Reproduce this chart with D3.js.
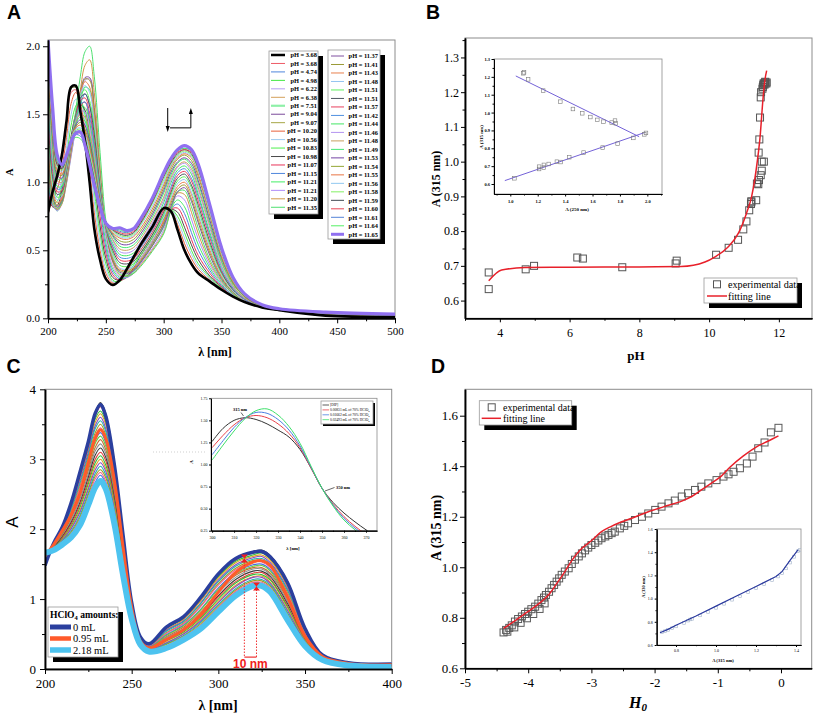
<!DOCTYPE html>
<html><head><meta charset="utf-8">
<script src="https://d3js.org/d3.v7.min.js"></script>
<style>html,body{margin:0;padding:0;background:#fff}svg{display:block}svg text{font-family:"Liberation Serif","Times New Roman",serif}</style>
</head><body>
<svg id="fig" width="815" height="714" xmlns="http://www.w3.org/2000/svg"></svg>
<script>
// ================= DATA =================
// ---- Panel A : UV spectra at different pH ----
const lamA = [200,204,208,212,216,220,224,228,232,236,240,245,250,256,262,268,274,280,290,300,306,312,318,324,330,340,350,360,370,385,400,440,500];
const phA = ['3.68','3.68','4.74','4.98','6.22','6.38','7.51','9.04','9.07','10.20','10.56','10.83','10.98','11.07','11.15','11.21','11.21','11.20','11.35','11.37','11.41','11.43','11.48','11.51','11.51','11.57','11.42','11.44','11.46','11.48','11.49','11.53','11.54','11.55','11.56','11.58','11.59','11.60','11.61','11.64','11.65'];
const colorsA = ["#000000","#ee5a66","#4f86dc","#44e844","#b79cf2","#d4a05a","#8ef0a8","#7b4a9a","#a6a645","#e8603a","#9ccbef","#4ef04e","#4a4a4a","#e8345a","#4f86dc","#44ee66","#b08cf8","#d09848","#4ee070",
 "#8050a0","#9a9a36","#e8804e","#94c4f0","#5cf05c","#4e5660","#e8405e","#5090e0","#44e664","#b494f0","#c8a060","#44e874","#7444a4","#94a634","#e87444","#90c8f0","#84f064","#424a52","#e84454","#5484d8","#54f064","#9070f0"];
const specLowPH = [0.77,0.91,1.04,1.19,1.44,1.69,1.70,1.51,1.30,1.00,0.66,0.43,0.29,0.25,0.28,0.36,0.45,0.54,0.67,0.81,0.79,0.65,0.50,0.40,0.33,0.27,0.21,0.16,0.12,0.08,0.06,0.02,0.01];
const spectraA = [
 [0.78,0.93,1.05,1.2,1.45,1.70,1.71,1.52,1.30,1.00,0.66,0.43,0.29,0.245,0.28,0.36,0.45,0.54,0.67,0.81,0.79,0.65,0.50,0.40,0.33,0.27,0.21,0.16,0.12,0.08,0.06,0.02,0.01],
 [0.76,0.9,1.02,1.17,1.42,1.66,1.68,1.5,1.29,1.0,0.67,0.44,0.3,0.255,0.285,0.365,0.455,0.545,0.675,0.81,0.79,0.66,0.51,0.41,0.34,0.27,0.21,0.16,0.12,0.08,0.06,0.02,0.01],
 specLowPH, specLowPH, specLowPH, specLowPH, specLowPH, specLowPH, specLowPH,
 [0.8,0.88,0.95,1.1,1.33,1.58,1.66,1.58,1.38,1.1,0.78,0.5,0.33,0.26,0.27,0.34,0.43,0.52,0.65,0.79,0.8,0.69,0.55,0.44,0.36,0.28,0.22,0.16,0.12,0.08,0.06,0.02,0.01],
 [0.82,0.86,0.9,1.03,1.25,1.5,1.61,1.6,1.45,1.19,0.86,0.56,0.36,0.27,0.27,0.33,0.41,0.5,0.63,0.77,0.8,0.72,0.59,0.47,0.38,0.29,0.22,0.16,0.12,0.08,0.06,0.02,0.01],
 [0.85,0.84,0.86,0.98,1.18,1.42,1.56,1.6,1.5,1.27,0.94,0.62,0.4,0.28,0.27,0.32,0.39,0.48,0.61,0.75,0.8,0.75,0.63,0.5,0.4,0.3,0.22,0.16,0.12,0.08,0.06,0.02,0.01],
 [0.9,0.82,0.83,0.94,1.12,1.34,1.5,1.57,1.53,1.34,1.02,0.68,0.44,0.3,0.28,0.31,0.37,0.46,0.59,0.73,0.8,0.78,0.67,0.54,0.43,0.31,0.23,0.16,0.12,0.08,0.06,0.02,0.01],
 [0.95,0.82,0.81,0.9,1.07,1.28,1.45,1.56,1.59,1.45,1.12,0.75,0.48,0.32,0.28,0.3,0.36,0.44,0.57,0.71,0.8,0.81,0.72,0.58,0.46,0.33,0.23,0.16,0.12,0.08,0.06,0.02,0.01],
 [1.0,0.83,0.8,0.87,1.03,1.24,1.42,1.57,1.65,1.57,1.24,0.83,0.52,0.34,0.29,0.3,0.35,0.42,0.55,0.69,0.8,0.84,0.77,0.63,0.5,0.35,0.24,0.17,0.12,0.08,0.06,0.02,0.01],
 [1.05,0.84,0.79,0.85,1.0,1.2,1.4,1.58,1.7,1.68,1.36,0.9,0.56,0.36,0.3,0.3,0.34,0.41,0.53,0.67,0.8,0.87,0.82,0.68,0.54,0.37,0.25,0.17,0.12,0.08,0.06,0.02,0.01],
 [1.1,0.85,0.79,0.84,0.99,1.19,1.4,1.6,1.75,1.76,1.47,0.98,0.6,0.38,0.31,0.3,0.33,0.4,0.51,0.65,0.8,0.9,0.87,0.73,0.58,0.39,0.26,0.17,0.12,0.08,0.06,0.02,0.01],
 [1.15,0.86,0.8,0.84,1.0,1.22,1.45,1.68,1.86,1.9,1.66,1.12,0.66,0.41,0.32,0.31,0.33,0.39,0.5,0.63,0.79,0.92,0.91,0.78,0.62,0.41,0.27,0.18,0.12,0.08,0.06,0.02,0.01],
 [1.2,0.88,0.81,0.85,1.03,1.28,1.53,1.78,1.96,2.0,1.78,1.22,0.72,0.44,0.33,0.31,0.33,0.38,0.49,0.62,0.79,0.93,0.94,0.82,0.66,0.43,0.28,0.18,0.12,0.08,0.06,0.02,0.01],
 [1.25,0.9,0.82,0.86,1.03,1.25,1.48,1.66,1.77,1.77,1.55,1.05,0.65,0.42,0.34,0.33,0.35,0.41,0.53,0.68,0.82,0.93,0.96,0.86,0.7,0.46,0.29,0.19,0.13,0.08,0.06,0.03,0.015],
 [1.3,0.92,0.83,0.87,1.04,1.26,1.49,1.66,1.76,1.75,1.53,1.04,0.65,0.43,0.35,0.34,0.36,0.42,0.54,0.7,0.84,0.95,0.98,0.88,0.72,0.48,0.3,0.19,0.13,0.08,0.06,0.03,0.015],
 [1.35,0.95,0.85,0.88,1.05,1.27,1.5,1.66,1.74,1.7,1.48,1.02,0.65,0.45,0.36,0.35,0.37,0.43,0.56,0.72,0.86,0.97,1.0,0.91,0.75,0.5,0.31,0.2,0.13,0.08,0.06,0.03,0.015],
 [1.4,0.98,0.87,0.9,1.06,1.28,1.5,1.65,1.71,1.66,1.44,1.0,0.65,0.46,0.37,0.36,0.38,0.44,0.57,0.74,0.88,0.99,1.02,0.93,0.77,0.52,0.32,0.2,0.13,0.08,0.06,0.03,0.015],
 [1.45,1.01,0.89,0.91,1.07,1.29,1.5,1.64,1.68,1.6,1.39,0.98,0.66,0.48,0.39,0.38,0.4,0.46,0.59,0.76,0.9,1.01,1.04,0.96,0.8,0.54,0.33,0.21,0.14,0.08,0.06,0.03,0.015],
 [1.5,1.04,0.91,0.93,1.08,1.3,1.49,1.62,1.65,1.56,1.35,0.96,0.67,0.5,0.41,0.4,0.42,0.48,0.61,0.78,0.92,1.03,1.06,0.98,0.83,0.56,0.34,0.21,0.14,0.08,0.06,0.03,0.015],
 [1.55,1.08,0.93,0.94,1.09,1.3,1.48,1.6,1.62,1.51,1.3,0.94,0.67,0.52,0.43,0.42,0.44,0.5,0.63,0.8,0.94,1.05,1.08,1.01,0.86,0.59,0.35,0.22,0.14,0.08,0.06,0.03,0.015],
 [1.6,1.12,0.95,0.96,1.1,1.31,1.47,1.57,1.59,1.48,1.27,0.93,0.68,0.53,0.45,0.44,0.46,0.52,0.65,0.82,0.96,1.07,1.1,1.03,0.89,0.61,0.36,0.22,0.14,0.08,0.06,0.03,0.015],
 [1.65,1.16,0.97,0.97,1.11,1.31,1.46,1.55,1.55,1.43,1.23,0.91,0.68,0.55,0.47,0.46,0.48,0.54,0.67,0.85,0.99,1.09,1.12,1.06,0.91,0.63,0.38,0.23,0.15,0.09,0.06,0.03,0.02],
 [1.7,1.2,0.99,0.99,1.12,1.31,1.45,1.52,1.52,1.4,1.2,0.9,0.69,0.57,0.49,0.48,0.5,0.56,0.7,0.87,1.01,1.11,1.14,1.08,0.94,0.66,0.39,0.23,0.15,0.09,0.06,0.03,0.02],
 [1.74,1.24,1.01,1.0,1.13,1.31,1.44,1.5,1.48,1.36,1.17,0.89,0.69,0.58,0.51,0.5,0.52,0.58,0.72,0.89,1.03,1.12,1.15,1.1,0.96,0.68,0.41,0.24,0.15,0.09,0.06,0.03,0.02],
 [1.78,1.28,1.03,1.02,1.14,1.31,1.43,1.48,1.45,1.33,1.14,0.88,0.7,0.6,0.53,0.52,0.54,0.6,0.74,0.92,1.05,1.14,1.17,1.12,0.99,0.7,0.42,0.25,0.16,0.09,0.065,0.035,0.02],
 [1.82,1.32,1.05,1.03,1.15,1.32,1.42,1.46,1.42,1.3,1.12,0.87,0.7,0.61,0.55,0.54,0.56,0.62,0.76,0.94,1.07,1.15,1.18,1.14,1.01,0.72,0.44,0.26,0.16,0.09,0.065,0.035,0.02],
 [1.85,1.36,1.07,1.05,1.16,1.32,1.41,1.44,1.39,1.27,1.1,0.86,0.71,0.62,0.57,0.56,0.58,0.64,0.78,0.96,1.09,1.17,1.2,1.16,1.04,0.75,0.45,0.26,0.16,0.09,0.065,0.035,0.02],
 [1.88,1.4,1.09,1.06,1.17,1.32,1.4,1.42,1.37,1.24,1.08,0.85,0.71,0.63,0.59,0.58,0.6,0.66,0.8,0.98,1.11,1.18,1.21,1.18,1.06,0.77,0.47,0.27,0.17,0.1,0.065,0.035,0.02],
 [1.91,1.43,1.11,1.08,1.18,1.32,1.39,1.4,1.35,1.22,1.06,0.84,0.71,0.64,0.6,0.59,0.61,0.68,0.82,1.0,1.12,1.19,1.22,1.19,1.08,0.78,0.48,0.28,0.17,0.1,0.065,0.035,0.02],
 [1.94,1.46,1.12,1.09,1.18,1.32,1.38,1.39,1.33,1.2,1.04,0.84,0.71,0.645,0.61,0.6,0.62,0.69,0.84,1.02,1.13,1.2,1.23,1.2,1.09,0.8,0.49,0.28,0.17,0.1,0.065,0.04,0.025],
 [1.97,1.48,1.13,1.1,1.19,1.31,1.37,1.37,1.31,1.18,1.02,0.83,0.71,0.65,0.62,0.61,0.63,0.7,0.85,1.04,1.14,1.21,1.24,1.21,1.1,0.81,0.5,0.29,0.18,0.1,0.07,0.04,0.025],
 [2.0,1.5,1.14,1.11,1.19,1.31,1.36,1.36,1.3,1.16,1.0,0.82,0.71,0.655,0.63,0.62,0.64,0.71,0.86,1.05,1.15,1.22,1.24,1.22,1.11,0.82,0.5,0.29,0.18,0.1,0.07,0.04,0.025],
 [2.02,1.52,1.15,1.11,1.19,1.31,1.35,1.34,1.28,1.15,0.99,0.82,0.71,0.66,0.64,0.63,0.65,0.72,0.87,1.06,1.16,1.23,1.25,1.23,1.12,0.82,0.51,0.29,0.18,0.1,0.07,0.04,0.025],
 [2.03,1.53,1.16,1.12,1.19,1.3,1.33,1.32,1.26,1.13,0.98,0.81,0.7,0.66,0.65,0.635,0.655,0.725,0.875,1.06,1.16,1.23,1.25,1.23,1.12,0.82,0.51,0.3,0.18,0.1,0.07,0.045,0.03],
 [2.05,1.55,1.2,1.13,1.2,1.3,1.36,1.37,1.27,1.13,0.98,0.82,0.7,0.66,0.665,0.645,0.66,0.73,0.88,1.07,1.17,1.24,1.27,1.24,1.13,0.83,0.52,0.3,0.18,0.1,0.07,0.045,0.03]
];
const ticksAx = [200,250,300,350,400,450,500], minorAx = [225,275,325,375,425,475];
const ticksAy = [0,0.5,1.0,1.5,2.0], minorAy = [0.25,0.75,1.25,1.75];
const arrowDownA = {lam:303.5, from:1.546, to:1.37};
const arrowElbowA = {lam0:305.5, lam1:323.5, a0:1.40, a1:1.546};

// ---- Panel B : A(315) vs pH ----
const absB = [0.633,0.681,0.690,0.700,0.724,0.721,0.696,0.707,0.715,0.732,0.752,0.775,0.805,0.828,0.860,0.883,0.886,0.878,0.889,0.937,0.935,0.947,0.961,0.974,1.0,1.0,1.026,1.064,1.127,1.185,1.2,1.21,1.215,1.22,1.225,1.225,1.222,1.228,1.23,1.225,1.228];
const fitBx = [3.68,4.05,4.72,6,8,9.2,9.88,10.17,10.55,10.84,11.07,11.22,11.36,11.46,11.55,11.6,11.65];
const fitBy = [0.657,0.688,0.695,0.696,0.697,0.698,0.711,0.726,0.755,0.794,0.851,0.9,0.985,1.07,1.187,1.235,1.262];
const ticksBx = [4,6,8,10,12], minorBx = [3,5,7,9,11];
const ticksBy = [0.6,0.7,0.8,0.9,1.0,1.1,1.2,1.3], minorBy = [0.65,0.75,0.85,0.95,1.05,1.15,1.25,1.35];
const inB1x = [1.095,1.10,1.13,1.24,1.365,1.457,1.525,1.584,1.635,1.68,1.74,1.764,1.77];
const inB1y = [1.22,1.225,1.186,1.123,1.061,1.02,0.996,0.975,0.959,0.949,0.944,0.955,0.94];
const inB2x = [1.03,1.21,1.21,1.245,1.245,1.28,1.34,1.367,1.43,1.535,1.674,1.783,1.898,1.978,1.99];
const inB2y = [0.632,0.684,0.697,0.692,0.707,0.712,0.725,0.723,0.75,0.776,0.804,0.826,0.858,0.878,0.886];
const inBline1 = [[1.04,1.205],[1.94,0.865]], inBline2 = [[0.96,0.619],[1.98,0.888]];
const ticksBix = [1.0,1.2,1.4,1.6,1.8,2.0], ticksBiy = [0.6,0.7,0.8,0.9,1.0,1.1,1.2,1.3];

// ---- Panel C : spectra with HClO4 ----
const lamC = [200,205,210,215,220,225,229,232,235,240,245,250,255,260,270,280,290,300,310,320,325,330,340,350,360,375,400];
const blueC   = [1.48,1.8,2.03,2.37,2.8,3.25,3.66,3.78,3.62,2.92,1.92,0.95,0.46,0.36,0.6,0.75,1.03,1.36,1.58,1.67,1.68,1.6,1.23,0.58,0.2,0.09,0.07];
const orangeC = [1.62,1.78,1.98,2.2,2.5,2.95,3.3,3.42,3.3,2.7,1.75,0.88,0.4,0.3,0.42,0.56,0.78,1.1,1.38,1.53,1.55,1.48,1.02,0.47,0.18,0.08,0.06];
const cyanC   = [1.66,1.7,1.78,1.88,2.05,2.35,2.6,2.69,2.58,2.08,1.35,0.72,0.35,0.25,0.3,0.42,0.58,0.82,1.05,1.19,1.19,1.1,0.7,0.33,0.13,0.05,0.03];
const thinC = [
 [1.6,1.79,2.02,2.35,2.78,3.24,3.67,3.81,3.66,2.97,1.95,0.97,0.46,0.36,0.59,0.74,1.02,1.35,1.58,1.68,1.70,1.62,1.25,0.59,0.2,0.09,0.07],
 [1.61,1.79,2.01,2.34,2.77,3.21,3.62,3.75,3.6,2.92,1.92,0.95,0.46,0.36,0.59,0.74,1.02,1.34,1.56,1.67,1.69,1.61,1.22,0.57,0.2,0.09,0.07],
 [1.62,1.79,2.01,2.33,2.74,3.18,3.58,3.69,3.54,2.85,1.87,0.93,0.45,0.35,0.58,0.72,0.99,1.32,1.54,1.63,1.66,1.57,1.19,0.56,0.19,0.09,0.07],
 [1.63,1.78,2.0,2.31,2.71,3.14,3.53,3.65,3.5,2.82,1.85,0.92,0.45,0.35,0.56,0.71,0.98,1.3,1.52,1.61,1.63,1.55,1.17,0.55,0.19,0.09,0.07],
 [1.63,1.78,1.99,2.29,2.67,3.1,3.48,3.6,3.44,2.78,1.82,0.91,0.44,0.34,0.55,0.69,0.95,1.27,1.49,1.59,1.61,1.52,1.14,0.54,0.19,0.08,0.06],
 [1.64,1.78,1.98,2.27,2.64,3.06,3.44,3.55,3.4,2.74,1.8,0.9,0.44,0.34,0.54,0.68,0.94,1.25,1.47,1.57,1.58,1.5,1.12,0.53,0.19,0.08,0.06],
 [1.64,1.77,1.97,2.24,2.6,3.02,3.38,3.5,3.35,2.7,1.77,0.89,0.43,0.33,0.52,0.66,0.91,1.22,1.44,1.55,1.55,1.47,1.09,0.52,0.18,0.08,0.06],
 [1.65,1.77,1.96,2.22,2.58,2.98,3.34,3.45,3.31,2.67,1.75,0.88,0.43,0.33,0.51,0.65,0.9,1.2,1.42,1.53,1.53,1.45,1.07,0.51,0.18,0.08,0.06],
 [1.65,1.76,1.94,2.19,2.52,2.92,3.27,3.38,3.24,2.61,1.71,0.87,0.42,0.32,0.49,0.63,0.86,1.16,1.38,1.49,1.5,1.42,1.03,0.49,0.17,0.08,0.06],
 [1.65,1.76,1.93,2.17,2.49,2.88,3.23,3.33,3.19,2.58,1.69,0.86,0.41,0.31,0.48,0.62,0.85,1.14,1.36,1.47,1.48,1.4,1.01,0.48,0.17,0.07,0.05],
 [1.65,1.75,1.92,2.15,2.46,2.84,3.17,3.28,3.14,2.53,1.66,0.84,0.41,0.31,0.46,0.6,0.82,1.11,1.34,1.45,1.45,1.37,0.99,0.47,0.17,0.07,0.05],
 [1.65,1.75,1.9,2.12,2.42,2.79,3.12,3.22,3.09,2.49,1.63,0.83,0.4,0.3,0.45,0.58,0.8,1.09,1.31,1.43,1.43,1.35,0.96,0.45,0.16,0.07,0.05],
 [1.66,1.74,1.89,2.09,2.37,2.74,3.06,3.16,3.03,2.44,1.6,0.82,0.4,0.3,0.43,0.56,0.77,1.05,1.28,1.4,1.4,1.32,0.93,0.44,0.16,0.07,0.05],
 [1.66,1.73,1.88,2.07,2.34,2.69,3.0,3.1,2.98,2.4,1.57,0.81,0.39,0.29,0.41,0.55,0.75,1.03,1.25,1.37,1.38,1.29,0.9,0.43,0.16,0.06,0.05],
 [1.66,1.73,1.86,2.04,2.3,2.65,2.95,3.05,2.92,2.36,1.54,0.8,0.39,0.29,0.4,0.53,0.73,1.0,1.23,1.35,1.35,1.27,0.88,0.41,0.15,0.06,0.04],
 [1.66,1.72,1.85,2.02,2.26,2.6,2.9,3.0,2.87,2.32,1.51,0.78,0.38,0.28,0.38,0.51,0.71,0.97,1.2,1.32,1.33,1.24,0.85,0.4,0.15,0.06,0.04],
 [1.66,1.72,1.84,2.0,2.23,2.57,2.85,2.95,2.83,2.28,1.49,0.78,0.38,0.28,0.37,0.5,0.69,0.95,1.18,1.31,1.31,1.22,0.83,0.39,0.15,0.06,0.04],
 [1.66,1.72,1.83,1.97,2.19,2.52,2.8,2.9,2.78,2.24,1.46,0.76,0.37,0.27,0.36,0.48,0.67,0.92,1.15,1.28,1.28,1.2,0.8,0.38,0.14,0.06,0.04],
 [1.66,1.71,1.82,1.95,2.16,2.49,2.76,2.85,2.74,2.21,1.44,0.75,0.37,0.27,0.35,0.47,0.65,0.9,1.13,1.26,1.26,1.18,0.78,0.37,0.14,0.06,0.04],
 [1.66,1.71,1.81,1.93,2.13,2.45,2.72,2.81,2.69,2.17,1.41,0.75,0.36,0.26,0.33,0.46,0.63,0.88,1.11,1.24,1.24,1.16,0.76,0.36,0.14,0.05,0.03],
 [1.66,1.7,1.8,1.91,2.1,2.41,2.67,2.77,2.65,2.14,1.39,0.74,0.36,0.26,0.32,0.44,0.61,0.86,1.09,1.22,1.22,1.14,0.74,0.35,0.13,0.05,0.03],
 [1.66,1.7,1.79,1.9,2.07,2.38,2.63,2.72,2.61,2.11,1.37,0.73,0.35,0.25,0.31,0.43,0.59,0.84,1.07,1.2,1.2,1.12,0.72,0.34,0.13,0.05,0.03]
];
const thinColorsC = ["#3a3a3a","#e03a3a","#34c23a","#e0a020","#8a48c4","#20b0b0","#a0a020","#f06090","#4a6ae0","#60d040","#c87030","#8e8e8e"];
const legendC = ["0 mL","0.95  mL","2.18 mL"];
const ticksCx = [200,250,300,350,400], minorCx = [225,275,325,375];
const ticksCy = [0,1,2,3,4], minorCy = [0.5,1.5,2.5,3.5];
const markLamC = [315,322], markAbsC = [1.58,1.18], markBaseC = 0.17;
// inset C
const lamCi = [300,305,310,315,320,325,330,335,340,345,350,355,360,365,370,375];
const inC = [
 [1.26,1.41,1.5,1.53,1.51,1.46,1.39,1.31,1.17,0.96,0.73,0.57,0.45,0.35,0.26,0.18],
 [1.19,1.33,1.45,1.53,1.555,1.53,1.46,1.35,1.19,0.96,0.73,0.55,0.41,0.3,0.21,0.14],
 [1.11,1.27,1.42,1.53,1.59,1.58,1.51,1.39,1.21,0.97,0.73,0.54,0.39,0.28,0.19,0.12],
 [1.05,1.22,1.38,1.52,1.61,1.63,1.56,1.43,1.24,0.98,0.73,0.53,0.37,0.26,0.17,0.1]
];
const inCcolors = ["#333333","#e8404a","#4a7fe0","#3ee06a"];
const inClegend = ["[DIP]","0.00831 mL of 70% HClO","0.01662 mL of 70% HClO","0.02493 mL of 70% HClO"];
const ticksCix = [300,310,320,330,340,350,360,370], ticksCiy = [0.25,0.5,0.75,1.0,1.25,1.5,1.75];

// ---- Panel D : A(315) vs H0 ----
const h0D = [-4.39,-4.35,-4.3,-4.26,-4.21,-4.16,-4.1,-4.05,-4.0,-3.95,-3.89,-3.84,-3.79,-3.75,-3.72,-3.67,-3.63,-3.59,-3.55,-3.51,-3.47,-3.42,-3.36,-3.31,-3.26,-3.2,-3.15,-3.1,-3.05,-3.0,-2.94,-2.89,-2.84,-2.78,-2.73,-2.68,-2.63,-2.55,-2.48,-2.42,-2.31,-2.2,-2.1,-1.99,-1.89,-1.78,-1.68,-1.57,-1.47,-1.36,-1.26,-1.15,-1.02,-0.91,-0.83,-0.75,-0.65,-0.54,-0.45,-0.36,-0.26,-0.16,-0.04,-4.33,-4.22,-4.12,-4.02,-3.92,-3.82,-3.74];
const absD = [0.742,0.752,0.76,0.77,0.785,0.795,0.805,0.815,0.824,0.834,0.844,0.856,0.87,0.88,0.89,0.903,0.917,0.93,0.943,0.956,0.97,0.983,0.996,1.013,1.03,1.043,1.055,1.067,1.078,1.088,1.097,1.106,1.115,1.122,1.128,1.135,1.141,1.154,1.164,1.174,1.187,1.2,1.213,1.227,1.24,1.253,1.264,1.28,1.293,1.306,1.319,1.332,1.345,1.359,1.368,1.378,1.392,1.411,1.438,1.471,1.494,1.534,1.552,0.745,0.762,0.78,0.798,0.815,0.835,0.857];
const fitDx = [-4.39,-4.2,-4.0,-3.8,-3.68,-3.55,-3.42,-3.3,-3.15,-3.0,-2.84,-2.7,-2.52,-2.3,-2.1,-1.85,-1.57,-1.4,-1.26,-1.1,-0.94,-0.8,-0.6,-0.4,-0.2,-0.04];
const fitDy = [0.758,0.79,0.825,0.862,0.89,0.935,0.983,1.03,1.075,1.105,1.141,1.16,1.18,1.2,1.22,1.24,1.262,1.282,1.306,1.333,1.362,1.398,1.44,1.475,1.5,1.52];
const ticksDx = [-5,-4,-3,-2,-1,0], minorDx = [-4.5,-3.5,-2.5,-1.5,-0.5];
const ticksDy = [0.6,0.8,1.0,1.2,1.4,1.6], minorDy = [0.7,0.9,1.1,1.3,1.5];
const inDlx = [0.72,0.76,0.8,0.9,1.0,1.1,1.2,1.3,1.33,1.37,1.41];
const inDly = [0.705,0.735,0.77,0.85,0.935,1.02,1.105,1.19,1.232,1.33,1.42];
const inDpx = [0.73,0.745,0.76,0.78,0.8,0.84,0.86,0.87,0.88,0.92,0.96,1.0,1.04,1.08,1.12,1.16,1.2,1.24,1.28,1.31,1.33,1.35,1.37,1.39,1.41,1.42];
const inDpy = [0.71,0.72,0.73,0.745,0.76,0.79,0.81,0.82,0.825,0.855,0.885,0.92,0.955,0.99,1.02,1.055,1.09,1.125,1.16,1.19,1.22,1.26,1.31,1.36,1.41,1.42];
const ticksDix = [0.8,1.0,1.2,1.4], ticksDiy = [0.6,0.8,1.0,1.2,1.4,1.6];

// ================= DRAWING =================
const svg = d3.select('#fig');
const SERIF = '"Liberation Serif","Times New Roman",serif';
const SANS = '"Liberation Sans",Arial,Helvetica,sans-serif';
let clipN = 0;

function makePanel(c) {
  const x = d3.scaleLinear().domain(c.xd).range([c.l, c.r]);
  const y = d3.scaleLinear().domain(c.yd).range([c.b, c.t]);
  const g = svg.append('g');
  const id = 'cp' + (clipN++);
  g.append('clipPath').attr('id', id).append('rect')
    .attr('x', c.l).attr('y', c.t).attr('width', c.r - c.l).attr('height', c.b - c.t);
  g.append('rect').attr('x', c.l).attr('y', c.t).attr('width', c.r - c.l).attr('height', c.b - c.t)
    .attr('fill', c.bg || 'none').attr('stroke', c.frame || '#8c8c8c').attr('stroke-width', c.fw || 1);
  const plot = g.append('g').attr('clip-path', `url(#${id})`);
  function axes() {
    const style = s => {
      s.attr('font-family', null).attr('font-size', null);
      s.select('.domain').attr('stroke', '#000').attr('stroke-width', c.aw || 1.5);
      s.selectAll('.tick line').attr('stroke', '#000').attr('stroke-width', c.tw || 1);
      s.selectAll('.tick text').style('font-family', SERIF).style('font-size', c.fs + 'px').attr('fill', '#000').style('font-weight', c.fwt || 'normal');
    };
    const bx = g.append('g').attr('transform', `translate(0,${c.b})`);
    bx.append('g').call(d3.axisBottom(x).tickValues(c.xm || []).tickSize(c.ml).tickSizeOuter(0).tickFormat('')).call(style);
    bx.append('g').call(d3.axisBottom(x).tickValues(c.xM).tickSize(c.Ml).tickSizeOuter(0).tickPadding(c.xp).tickFormat(c.xf)).call(style);
    const ly = g.append('g').attr('transform', `translate(${c.l},0)`);
    ly.append('g').call(d3.axisLeft(y).tickValues(c.ym || []).tickSize(c.ml).tickSizeOuter(0).tickFormat('')).call(style);
    ly.append('g').call(d3.axisLeft(y).tickValues(c.yM).tickSize(c.Ml).tickSizeOuter(0).tickPadding(c.yp).tickFormat(c.yf)).call(style);
  }
  return { x, y, g, plot, axes };
}
function txt(g, x, y, s, o = {}) {
  const t = g.append('text').attr('x', x).attr('y', y).text(s)
    .style('font-family', o.ff || SERIF).style('font-size', (o.fs || 10) + 'px')
    .style('font-weight', o.fw || 'normal').style('font-style', o.it ? 'italic' : 'normal')
    .attr('fill', o.fill || '#000').attr('text-anchor', o.anchor || 'start');
  if (o.dy) t.attr('dy', o.dy);
  if (o.rot) t.attr('transform', `rotate(${o.rot},${x},${y})`);
  return t;
}
function shadowBox(g, x, y, w, h, off) {
  g.append('rect').attr('x', x + off).attr('y', y + off).attr('width', w).attr('height', h).attr('fill', '#000');
  g.append('rect').attr('x', x).attr('y', y).attr('width', w).attr('height', h).attr('fill', '#fff').attr('stroke', '#9a9a9a').attr('stroke-width', 0.8);
}
const sq = (g, cx, cy, s, stroke, sw) => g.append('rect').attr('x', cx - s / 2).attr('y', cy - s / 2).attr('width', s).attr('height', s)
  .attr('fill', 'none').attr('stroke', stroke).attr('stroke-width', sw);

// ---------- Panel A ----------
const pA = makePanel({ xd: [200, 500], yd: [0, 2.046], l: 48, r: 395, t: 40, b: 318.3,
  xM: ticksAx, xm: minorAx, yM: ticksAy, ym: minorAy, ml: 3, Ml: 5, xp: 4, yp: 3,
  xf: d => d, yf: d3.format('.1f'), fs: 11 });
const lineA = d3.line().x((d, i) => pA.x(lamA[i])).y(d => pA.y(d)).curve(d3.curveCatmullRom);
const orderA = d3.range(1, 40).concat([0, 40]);
orderA.forEach(i => {
  pA.plot.append('path').attr('d', lineA(spectraA[i])).attr('fill', 'none')
    .attr('stroke', colorsA[i]).attr('stroke-width', i === 0 ? 2.6 : i === 40 ? 3.2 : 1);
});
pA.axes();
(function () {
  const g = pA.g, x = pA.x, y = pA.y;
  const xd = x(arrowDownA.lam);
  g.append('line').attr('x1', xd).attr('x2', xd).attr('y1', y(arrowDownA.from)).attr('y2', y(arrowDownA.to) - 4).attr('stroke', '#000');
  g.append('path').attr('d', `M${xd - 2},${y(arrowDownA.to) - 6}L${xd + 2},${y(arrowDownA.to) - 6}L${xd},${y(arrowDownA.to)}Z`).attr('fill', '#000');
  const x0 = x(arrowElbowA.lam0), x1 = x(arrowElbowA.lam1), ya = y(arrowElbowA.a0), yb = y(arrowElbowA.a1);
  g.append('path').attr('d', `M${x0},${ya}L${x1},${ya}L${x1},${yb + 4}`).attr('fill', 'none').attr('stroke', '#000');
  g.append('path').attr('d', `M${x1 - 2},${yb + 6}L${x1 + 2},${yb + 6}L${x1},${yb}Z`).attr('fill', '#000');
})();
shadowBox(pA.g, 269, 51, 49, 163, 5);
shadowBox(pA.g, 328, 50, 52, 189, 5);
phA.forEach((p, i) => {
  const first = i < 19, j = first ? i : i - 19;
  const yy = first ? 55 + j * 8.46 : 56 + j * 8.49;
  const l0 = first ? 271 : 331, l1 = first ? 285 : 344, tx = first ? 317 : 378;
  pA.g.append('line').attr('x1', l0).attr('x2', l1).attr('y1', yy).attr('y2', yy)
    .attr('stroke', colorsA[i]).attr('stroke-width', i === 0 ? 2.5 : i === 40 ? 3 : i === 6 ? 2.2 : 1);
  txt(pA.g, tx, yy, 'pH = ' + p, { fs: 6.4, fw: 'bold', anchor: 'end', dy: '0.35em' });
});
txt(svg, 215, 356, 'λ [nm]', { fs: 12, fw: 'bold', anchor: 'middle' });
txt(svg, 9, 172, 'A', { fs: 10, fw: 'bold', anchor: 'middle', rot: -90, dy: '0.35em' });

// ---------- Panel B ----------
const pB = makePanel({ xd: [3, 12.95], yd: [0.549, 1.356], l: 465, r: 812, t: 38, b: 318.3,
  xM: ticksBx, xm: minorBx, yM: ticksBy, ym: minorBy.filter(v => v < 1.356), ml: 2.5, Ml: 4, xp: 6, yp: 2,
  xf: d => d, yf: d3.format('.1f'), fs: 12 });
phA.forEach((p, i) => sq(pB.plot, pB.x(+p), pB.y(absB[i]), 7, '#555', 1));
pB.plot.append('path').attr('d', d3.line().x((d, i) => pB.x(fitBx[i])).y(d => pB.y(d)).curve(d3.curveMonotoneX)(fitBy))
  .attr('fill', 'none').attr('stroke', '#e8202a').attr('stroke-width', 1.5);
pB.axes();
shadowBox(pB.g, 704, 278, 93, 25, 5);
sq(pB.g, 717, 284.3, 7, '#555', 1);
pB.g.append('line').attr('x1', 707).attr('x2', 727).attr('y1', 296).attr('y2', 296).attr('stroke', '#e8202a').attr('stroke-width', 1.5);
txt(pB.g, 728, 284.3, 'experimental data', { fs: 10.2, dy: '0.35em' });
txt(pB.g, 728, 296, 'fitting line', { fs: 10.2, dy: '0.35em' });
txt(svg, 636, 360, 'pH', { fs: 13, fw: 'bold', anchor: 'middle' });
txt(svg, 436, 179, 'A (315 nm)', { fs: 12, fw: 'bold', anchor: 'middle', rot: -90, dy: '0.35em' });
const pBi = makePanel({ xd: [0.881, 2.107], yd: [0.544, 1.3], l: 494, r: 662, t: 59, b: 194, bg: '#fff',
  xM: ticksBix, xm: [0.9, 1.1, 1.3, 1.5, 1.7, 1.9, 2.1], yM: ticksBiy, ym: [0.65, 0.75, 0.85, 0.95, 1.05, 1.15, 1.25],
  ml: 1.5, Ml: 2.5, xp: 3, yp: 1.5, xf: d3.format('.1f'), yf: d3.format('.1f'), fs: 4.5, aw: 1, fwt: 'bold', fw: 0.8 });
[inBline1, inBline2].forEach(L => pBi.plot.append('line').attr('x1', pBi.x(L[0][0])).attr('y1', pBi.y(L[0][1]))
  .attr('x2', pBi.x(L[1][0])).attr('y2', pBi.y(L[1][1])).attr('stroke', '#7462d8').attr('stroke-width', 1));
inB1x.forEach((v, i) => sq(pBi.plot, pBi.x(v), pBi.y(inB1y[i]), 3.6, '#7a7a7a', 0.6));
inB2x.forEach((v, i) => sq(pBi.plot, pBi.x(v), pBi.y(inB2y[i]), 3.6, '#7a7a7a', 0.6));
pBi.axes();
txt(svg, 577, 211, 'A (250 nm)', { fs: 5, fw: 'bold', anchor: 'middle' });
txt(svg, 481, 137, 'A (315 nm)', { fs: 5, fw: 'bold', anchor: 'middle', rot: -90, dy: '0.35em' });

// ---------- Panel C ----------
const pC = makePanel({ xd: [200, 400], yd: [0, 4], l: 45, r: 391.7, t: 389.3, b: 669,
  xM: ticksCx, xm: minorCx, yM: ticksCy, ym: minorCy, ml: 3, Ml: 5, xp: 4.5, yp: 4,
  xf: d => d, yf: d => d, fs: 13 });
const lineC = d3.line().x((d, i) => pC.x(lamC[i])).y(d => pC.y(d)).curve(d3.curveCatmullRom);
thinC.forEach((s, i) => pC.plot.append('path').attr('d', lineC(s)).attr('fill', 'none')
  .attr('stroke', thinColorsC[i % thinColorsC.length]).attr('stroke-width', 1.1));
[[blueC, '#2b3f9e', 3.5], [orangeC, '#ff5a2a', 3], [cyanC, '#4dc3ef', 6]].forEach(([s, c, w]) =>
  pC.plot.append('path').attr('d', lineC(s)).attr('fill', 'none').attr('stroke', c).attr('stroke-width', w));
pC.plot.append('line').attr('x1', 153).attr('x2', 205).attr('y1', 452).attr('y2', 452).attr('stroke', '#cfcfcf').attr('stroke-dasharray', '1,2');
(function () {
  const g = pC.g, yb = pC.y(markBaseC);
  markLamC.forEach((l, i) => {
    const xx = pC.x(l), yy = pC.y(markAbsC[i]);
    g.append('line').attr('x1', xx).attr('x2', xx).attr('y1', yy).attr('y2', yb).attr('stroke', '#f03030').attr('stroke-width', 1).attr('stroke-dasharray', '1.5,1.5');
    g.append('path').attr('d', `M${xx - 3.5},${yy - 4}L${xx + 3.5},${yy - 4}L${xx - 3.5},${yy + 4}L${xx + 3.5},${yy + 4}Z`).attr('fill', '#f02020');
  });
  g.append('line').attr('x1', pC.x(markLamC[0])).attr('x2', pC.x(markLamC[1])).attr('y1', yb).attr('y2', yb).attr('stroke', '#f03030').attr('stroke-width', 1.2);
  txt(g, (pC.x(markLamC[0]) + pC.x(markLamC[1])) / 2, yb + 11, '10 nm', { ff: SANS, fs: 12, fw: 'bold', anchor: 'middle', fill: '#f02020' });
})();
pC.axes();
shadowBox(pC.g, 48, 607, 70, 50, 5);
(function () {
  const t = txt(pC.g, 50, 617.5, 'HClO', { fs: 9.6, fw: 'bold' });
  t.append('tspan').text('4').style('font-size', '6.5px').attr('dy', 2.5);
  t.append('tspan').text(' amounts:').attr('dy', -2.5);
  const cols = ['#2b3f9e', '#ff5a2a', '#4dc3ef'], ws = [5, 4.5, 5.5], ys = [627, 638.5, 650];
  legendC.forEach((s, i) => {
    pC.g.append('line').attr('x1', 50).attr('x2', 71).attr('y1', ys[i]).attr('y2', ys[i]).attr('stroke', cols[i]).attr('stroke-width', ws[i]);
    txt(pC.g, 73, ys[i], s, { fs: 10.5, dy: '0.35em' });
  });
})();
txt(svg, 218, 710, 'λ [nm]', { fs: 14, fw: 'bold', anchor: 'middle' });
txt(svg, 12, 522, 'A', { ff: SANS, fs: 17, anchor: 'middle', rot: -90, dy: '0.35em' });
const pCi = makePanel({ xd: [299.5, 375], yd: [0.25, 1.75], l: 211, r: 377, t: 398.3, b: 530.7, bg: '#fff',
  xM: ticksCix, xm: [305, 315, 325, 335, 345, 355, 365], yM: ticksCiy, ym: [],
  ml: 1.2, Ml: 2, xp: 3, yp: 1.5, xf: d => d, yf: d3.format('.2f'), fs: 4, aw: 1, fw: 0.8 });
const lineCi = d3.line().x((d, i) => pCi.x(lamCi[i])).y(d => pCi.y(d)).curve(d3.curveCatmullRom);
inC.forEach((s, i) => pCi.plot.append('path').attr('d', lineCi(s)).attr('fill', 'none').attr('stroke', inCcolors[i]).attr('stroke-width', 1));
pCi.axes();
shadowBox(pCi.g, 321, 401, 52, 23, 2);
inClegend.forEach((s, i) => {
  const yy = 405 + i * 4.9;
  pCi.g.append('line').attr('x1', 322.5).attr('x2', 329).attr('y1', yy).attr('y2', yy).attr('stroke', inCcolors[i]).attr('stroke-width', 0.8);
  const t = txt(pCi.g, 330, yy, s, { fs: 3.6, dy: '0.35em' });
  if (i > 0) t.append('tspan').text('4').style('font-size', '2.6px').attr('dy', 1);
});
txt(pCi.g, 240, 411, '315 nm', { fs: 4.5, fw: 'bold', anchor: 'middle' });
pCi.g.append('line').attr('x1', 241).attr('y1', 412.5).attr('x2', 243.5).attr('y2', 416).attr('stroke', '#000').attr('stroke-width', 0.6);
txt(pCi.g, 343, 488.5, '350 nm', { fs: 4.5, fw: 'bold', anchor: 'middle' });
pCi.g.append('line').attr('x1', 334.5).attr('y1', 487.5).attr('x2', 325).attr('y2', 491).attr('stroke', '#000').attr('stroke-width', 0.6);
txt(svg, 293, 549.5, 'λ [nm]', { fs: 4.8, fw: 'bold', anchor: 'middle' });
txt(svg, 191, 462, 'A', { fs: 5, fw: 'bold', anchor: 'middle', rot: -90, dy: '0.35em' });

// ---------- Panel D ----------
const pD = makePanel({ xd: [-5, 0.486], yd: [0.6, 1.7045], l: 465, r: 811.7, t: 389.3, b: 668.3,
  xM: ticksDx, xm: minorDx, yM: ticksDy, ym: minorDy, ml: 3, Ml: 5, xp: 4.5, yp: 2,
  xf: d => String(d), yf: d3.format('.1f'), fs: 13 });
h0D.forEach((h, i) => sq(pD.plot, pD.x(h), pD.y(absD[i]), 7, '#5a5a5a', 1));
pD.plot.append('path').attr('d', d3.line().x((d, i) => pD.x(fitDx[i])).y(d => pD.y(d)).curve(d3.curveCatmullRom)(fitDy))
  .attr('fill', 'none').attr('stroke', '#e8202a').attr('stroke-width', 1.5);
pD.axes();
shadowBox(pD.g, 479.3, 400.7, 92.4, 24.3, 5);
sq(pD.g, 491.7, 407.3, 7, '#555', 1);
pD.g.append('line').attr('x1', 481.7).attr('x2', 501).attr('y1', 418.3).attr('y2', 418.3).attr('stroke', '#e8202a').attr('stroke-width', 1.5);
txt(pD.g, 503, 407.3, 'experimental data', { fs: 10, dy: '0.35em' });
txt(pD.g, 503, 418.3, 'fitting line', { fs: 10, dy: '0.35em' });
txt(svg, 436, 528, 'A (315 nm)', { fs: 14, fw: 'bold', anchor: 'middle', rot: -90, dy: '0.35em' });
(function () {
  const t = txt(svg, 638, 708, 'H', { fs: 16, fw: 'bold', it: true, anchor: 'middle' });
  t.append('tspan').text('0').style('font-size', '11px').attr('dy', 3);
})();
const pDi = makePanel({ xd: [0.7035, 1.425], yd: [0.6, 1.6], l: 656.7, r: 801, t: 529, b: 645, bg: '#fff',
  xM: ticksDix, xm: [0.9, 1.1, 1.3], yM: ticksDiy, ym: [0.7, 0.9, 1.1, 1.3, 1.5],
  ml: 1.2, Ml: 2, xp: 2.5, yp: 2, xf: d3.format('.1f'), yf: d3.format('.1f'), fs: 4, aw: 1, fw: 0.8 });
inDpx.forEach((v, i) => sq(pDi.plot, pDi.x(v), pDi.y(inDpy[i]), 2.6, '#9fb0c8', 0.6));
pDi.plot.append('path').attr('d', d3.line().x((d, i) => pDi.x(inDlx[i])).y(d => pDi.y(d))(inDly))
  .attr('fill', 'none').attr('stroke', '#2b3a9e').attr('stroke-width', 1.2);
pDi.axes();
txt(svg, 723, 662, 'A (315 nm)', { fs: 4.6, fw: 'bold', anchor: 'middle' });
txt(svg, 643, 587, 'A (330 nm)', { fs: 4.6, fw: 'bold', anchor: 'middle', rot: -90, dy: '0.35em' });

// ---------- panel letters ----------
txt(svg, 7, 18.5, 'A', { ff: SANS, fs: 19.5, fw: 'bold' });
txt(svg, 426, 18.5, 'B', { ff: SANS, fs: 19.5, fw: 'bold' });
txt(svg, 6.5, 373, 'C', { ff: SANS, fs: 19.5, fw: 'bold' });
txt(svg, 431, 373, 'D', { ff: SANS, fs: 19.5, fw: 'bold' });
</script>
</body></html>
